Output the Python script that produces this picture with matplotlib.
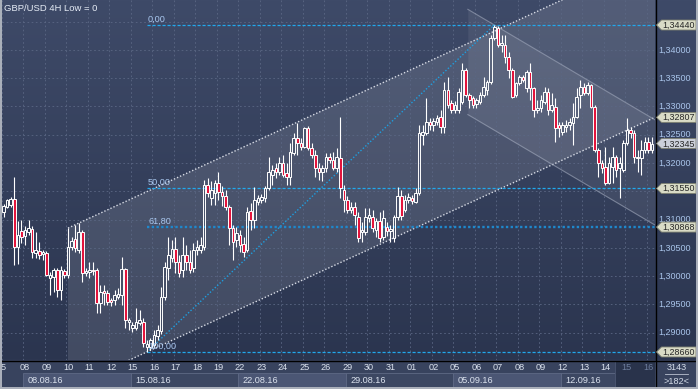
import matplotlib
matplotlib.use("Agg")
import matplotlib.pyplot as plt
import numpy as np
from matplotlib.patches import Rectangle, Polygon

plt.rcParams['font.family'] = ['Liberation Sans', 'DejaVu Sans']

# ---------------- data (GBP/USD 4H, 182 visible bars) ----------------
opens = [
    1.3113, 1.3122, 1.3126, 1.3136, 1.3051, 1.3080,
    1.3071, 1.3078, 1.3083, 1.3041, 1.3044, 1.3039,
    1.3041, 1.2997, 1.2999, 1.3011, 1.2976, 1.3009,
    1.3002, 1.3051, 1.3066, 1.3046, 1.3078, 1.3006,
    1.3007, 1.3011, 1.3011, 1.2953, 1.2974, 1.2970,
    1.2958, 1.2958, 1.2963, 1.2967, 1.3013, 1.2919,
    1.2908, 1.2908, 1.2917, 1.2919, 1.2874, 1.2874,
    1.2878, 1.2894, 1.2903, 1.2963, 1.3014, 1.3032,
    1.3048, 1.3025, 1.3011, 1.3037, 1.3025, 1.3014,
    1.3046, 1.3046, 1.3051, 1.3161, 1.3138, 1.3147,
    1.3165, 1.3149, 1.3142, 1.3122, 1.3085, 1.3064,
    1.3073, 1.3057, 1.3046, 1.3115, 1.3099, 1.3131,
    1.3135, 1.3138, 1.3156, 1.3179, 1.3191, 1.3184,
    1.3200, 1.3182, 1.3175, 1.3218, 1.3244, 1.3235,
    1.3228, 1.3262, 1.3227, 1.3214, 1.3191, 1.3184,
    1.3191, 1.3211, 1.3205, 1.3191, 1.3209, 1.3152,
    1.3135, 1.3117, 1.3122, 1.3105, 1.3078, 1.3078,
    1.3103, 1.3105, 1.3082, 1.3097, 1.3069, 1.3087,
    1.3080, 1.3067, 1.3105, 1.3142, 1.3117, 1.3135,
    1.3138, 1.3131, 1.3147, 1.3250, 1.3253, 1.3273,
    1.3267, 1.3273, 1.3281, 1.3264, 1.3329, 1.3306,
    1.3294, 1.3294, 1.3308, 1.3364, 1.3320, 1.3315,
    1.3304, 1.3308, 1.3320, 1.3329, 1.3343, 1.3421,
    1.3439, 1.3409, 1.3409, 1.3387, 1.3364, 1.3320,
    1.3341, 1.3352, 1.3333, 1.3361, 1.3333, 1.3294,
    1.3297, 1.3308, 1.3326, 1.3294, 1.3299, 1.3267,
    1.3255, 1.3264, 1.3267, 1.3271, 1.3281, 1.3320,
    1.3334, 1.3324, 1.3338, 1.3299, 1.3223, 1.3200,
    1.3193, 1.3165, 1.3193, 1.3211, 1.3191, 1.3188,
    1.3235, 1.3258, 1.3253, 1.3211, 1.3209, 1.3223,
    1.3237, 1.3223,
]
highs = [
    1.3128, 1.3136, 1.3140, 1.3175, 1.3097, 1.3099,
    1.3089, 1.3099, 1.3089, 1.3078, 1.3060, 1.3046,
    1.3044, 1.3007, 1.3014, 1.3014, 1.3018, 1.3013,
    1.3085, 1.3069, 1.3090, 1.3094, 1.3082, 1.3014,
    1.3025, 1.3025, 1.3014, 1.2984, 1.2984, 1.2976,
    1.2962, 1.2976, 1.2979, 1.3034, 1.3014, 1.2926,
    1.2919, 1.2944, 1.2940, 1.2926, 1.2887, 1.2891,
    1.2905, 1.2914, 1.2981, 1.3025, 1.3069, 1.3064,
    1.3069, 1.3037, 1.3069, 1.3055, 1.3046, 1.3058,
    1.3064, 1.3069, 1.3170, 1.3174, 1.3168, 1.3170,
    1.3184, 1.3159, 1.3152, 1.3126, 1.3090, 1.3087,
    1.3082, 1.3069, 1.3122, 1.3129, 1.3158, 1.3143,
    1.3145, 1.3159, 1.3211, 1.3196, 1.3200, 1.3211,
    1.3214, 1.3200, 1.3235, 1.3253, 1.3271, 1.3244,
    1.3264, 1.3265, 1.3235, 1.3223, 1.3200, 1.3196,
    1.3218, 1.3218, 1.3219, 1.3227, 1.3281, 1.3161,
    1.3142, 1.3131, 1.3131, 1.3113, 1.3096, 1.3121,
    1.3121, 1.3117, 1.3103, 1.3113, 1.3117, 1.3096,
    1.3090, 1.3108, 1.3158, 1.3152, 1.3143, 1.3147,
    1.3143, 1.3156, 1.3267, 1.3267, 1.3315, 1.3280,
    1.3280, 1.3285, 1.3294, 1.3343, 1.3352, 1.3311,
    1.3310, 1.3333, 1.3377, 1.3368, 1.3324, 1.3318,
    1.3315, 1.3326, 1.3352, 1.3347, 1.3426, 1.3444,
    1.3442, 1.3426, 1.3426, 1.3396, 1.3368, 1.3343,
    1.3356, 1.3356, 1.3364, 1.3377, 1.3334, 1.3311,
    1.3320, 1.3334, 1.3333, 1.3324, 1.3315, 1.3273,
    1.3273, 1.3276, 1.3280, 1.3306, 1.3333, 1.3347,
    1.3341, 1.3343, 1.3340, 1.3303, 1.3227, 1.3205,
    1.3228, 1.3211, 1.3228, 1.3214, 1.3211, 1.3241,
    1.3280, 1.3264, 1.3258, 1.3223, 1.3241, 1.3246,
    1.3246, 1.3246,
]
lows = [
    1.3105, 1.3121, 1.3122, 1.3020, 1.3021, 1.3058,
    1.3055, 1.3073, 1.3032, 1.3032, 1.3030, 1.3029,
    1.3000, 1.2967, 1.2972, 1.2963, 1.2958, 1.2997,
    1.2997, 1.3046, 1.3043, 1.3041, 1.2990, 1.3000,
    1.2997, 1.3002, 1.2935, 1.2935, 1.2949, 1.2949,
    1.2947, 1.2949, 1.2960, 1.2949, 1.2908, 1.2905,
    1.2901, 1.2905, 1.2914, 1.2874, 1.2866, 1.2869,
    1.2873, 1.2887, 1.2898, 1.2958, 1.2993, 1.3025,
    1.3006, 1.2999, 1.2999, 1.3011, 1.3006, 1.3007,
    1.3037, 1.3041, 1.3046, 1.3140, 1.3126, 1.3126,
    1.3135, 1.3124, 1.3117, 1.3055, 1.3029, 1.3051,
    1.3043, 1.3034, 1.3043, 1.3082, 1.3085, 1.3126,
    1.3129, 1.3131, 1.3152, 1.3161, 1.3174, 1.3179,
    1.3175, 1.3161, 1.3161, 1.3214, 1.3214, 1.3223,
    1.3227, 1.3223, 1.3209, 1.3175, 1.3170, 1.3168,
    1.3184, 1.3200, 1.3188, 1.3184, 1.3138, 1.3113,
    1.3112, 1.3112, 1.3090, 1.3060, 1.3060, 1.3073,
    1.3096, 1.3078, 1.3069, 1.3060, 1.3064, 1.3071,
    1.3060, 1.3060, 1.3099, 1.3099, 1.3113, 1.3129,
    1.3128, 1.3129, 1.3143, 1.3232, 1.3250, 1.3258,
    1.3257, 1.3267, 1.3253, 1.3253, 1.3297, 1.3288,
    1.3288, 1.3288, 1.3304, 1.3317, 1.3297, 1.3297,
    1.3297, 1.3304, 1.3317, 1.3320, 1.3340, 1.3417,
    1.3405, 1.3396, 1.3377, 1.3350, 1.3315, 1.3317,
    1.3338, 1.3343, 1.3326, 1.3311, 1.3281, 1.3288,
    1.3290, 1.3304, 1.3285, 1.3290, 1.3237, 1.3246,
    1.3250, 1.3255, 1.3258, 1.3232, 1.3280, 1.3297,
    1.3320, 1.3320, 1.3297, 1.3219, 1.3175, 1.3182,
    1.3161, 1.3163, 1.3165, 1.3175, 1.3138, 1.3184,
    1.3232, 1.3244, 1.3200, 1.3184, 1.3179, 1.3218,
    1.3218, 1.3218,
]
closes = [
    1.3124, 1.3135, 1.3136, 1.3051, 1.3073, 1.3069,
    1.3082, 1.3085, 1.3043, 1.3046, 1.3037, 1.3043,
    1.3002, 1.3002, 1.3011, 1.2976, 1.3011, 1.3002,
    1.3051, 1.3062, 1.3050, 1.3078, 1.3006, 1.3009,
    1.3011, 1.3009, 1.2953, 1.2972, 1.2970, 1.2954,
    1.2954, 1.2967, 1.2969, 1.3013, 1.2923, 1.2923,
    1.2914, 1.2919, 1.2923, 1.2881, 1.2880, 1.2887,
    1.2896, 1.2905, 1.2963, 1.3016, 1.3037, 1.3048,
    1.3025, 1.3006, 1.3037, 1.3025, 1.3011, 1.3046,
    1.3051, 1.3055, 1.3161, 1.3147, 1.3152, 1.3165,
    1.3149, 1.3142, 1.3122, 1.3085, 1.3060, 1.3076,
    1.3055, 1.3043, 1.3113, 1.3099, 1.3135, 1.3138,
    1.3140, 1.3156, 1.3184, 1.3188, 1.3184, 1.3200,
    1.3179, 1.3175, 1.3219, 1.3244, 1.3235, 1.3228,
    1.3262, 1.3227, 1.3214, 1.3191, 1.3184, 1.3191,
    1.3211, 1.3205, 1.3191, 1.3211, 1.3156, 1.3135,
    1.3117, 1.3122, 1.3108, 1.3067, 1.3082, 1.3105,
    1.3108, 1.3085, 1.3097, 1.3067, 1.3103, 1.3080,
    1.3083, 1.3105, 1.3142, 1.3106, 1.3135, 1.3140,
    1.3133, 1.3147, 1.3253, 1.3255, 1.3273, 1.3267,
    1.3274, 1.3280, 1.3264, 1.3329, 1.3303, 1.3294,
    1.3303, 1.3326, 1.3364, 1.3320, 1.3311, 1.3303,
    1.3311, 1.3320, 1.3334, 1.3343, 1.3421, 1.3440,
    1.3409, 1.3412, 1.3387, 1.3364, 1.3317, 1.3341,
    1.3352, 1.3347, 1.3361, 1.3333, 1.3294, 1.3297,
    1.3311, 1.3326, 1.3294, 1.3303, 1.3262, 1.3262,
    1.3267, 1.3267, 1.3273, 1.3281, 1.3317, 1.3334,
    1.3324, 1.3338, 1.3299, 1.3223, 1.3200, 1.3191,
    1.3165, 1.3200, 1.3211, 1.3188, 1.3200, 1.3235,
    1.3258, 1.3253, 1.3211, 1.3209, 1.3223, 1.3237,
    1.3223, 1.32345,
]

day_labels = ['5', '08', '09', '10', '11', '12', '15', '16', '17', '18', '19',
              '22', '23', '24', '25', '26', '29', '30', '31', '01', '02',
              '05', '06', '07', '08', '09', '12', '13', '14', '15', '16']
week_labels = ['08.08.16', '15.08.16', '22.08.16', '29.08.16', '05.09.16', '12.09.16']
price_ticks = [1.290, 1.295, 1.300, 1.305, 1.310, 1.315, 1.320, 1.325, 1.330, 1.335, 1.340]
grid_prices = [1.285, 1.290, 1.295, 1.300, 1.305, 1.310, 1.315, 1.320, 1.325,
               1.330, 1.335, 1.340, 1.345]
fib_levels = [0.0, 50.0, 61.8, 100.0]
tag_prices = [1.34440, 1.32807, 1.32345, 1.31550, 1.30868, 1.28660]
current_price = 1.32345
bars_total = 3143
bars_visible = 182
title = "GBP/USD 4H Low = 0"

# channel definitions (anchors)
chan_up_k, chan_lo_k = 18, 40          # upper anchor bar, lower anchor bar
chan_slope = 0.0002925                 # price per bar
desc_k0, desc_peak_k = 129.6, 137
desc_slope, desc_width = -0.000374, 0.0186
fib_lo_k, fib_hi_k = 40, 137

# ---------------- layout ----------------
W, H = 698, 389
PLOT_L, PLOT_R, PLOT_B = 2, 655, 360
PX_PER_PRICE = 5657.0
REF_Y = 25.0
CANDLE_PX = 3.583
X0_PX = 3.5

fig = plt.figure(figsize=(W / 100, H / 100), dpi=100)

bg = fig.add_axes([0, 0, 1, 1])
grad = np.linspace(0, 1, 256).reshape(-1, 1, 1)
top_c = np.array([0x3e, 0x4a, 0x68]) / 255.0
bot_c = np.array([0x2b, 0x35, 0x4f]) / 255.0
img = top_c * (1 - grad) + bot_c * grad
bg.imshow(img, extent=(0, W, PLOT_B, 0), aspect='auto', interpolation='bilinear')
bg.add_patch(Rectangle((0, PLOT_B), W, H - PLOT_B, color='#38435e', zorder=1))
bg.set_xlim(0, W)
bg.set_ylim(H, 0)
bg.set_axis_off()

ax = fig.add_axes([PLOT_L / W, (H - PLOT_B) / H, (PLOT_R - PLOT_L) / W, PLOT_B / H])
ax.set_axis_off()
ymax = tag_prices[0] + REF_Y / PX_PER_PRICE
ymin = ymax - PLOT_B / PX_PER_PRICE
xmin = -(X0_PX - PLOT_L) / CANDLE_PX
xmax = xmin + (PLOT_R - PLOT_L) / CANDLE_PX
ax.set_xlim(xmin, xmax)
ax.set_ylim(ymin, ymax)

n = len(closes)

# grid
for gp in grid_prices:
    ax.axhline(gp, color='#5b6784', lw=0.6, ls=(0, (2, 3)), zorder=2)
for d in range(len(day_labels)):
    ax.axvline(d * 6 - 0.5, color='#5b6784', lw=0.6, ls=(0, (2, 3)), zorder=2)

# ascending channel
ks = np.linspace(chan_up_k, xmax + 2, 300)
up = highs[chan_up_k] + chan_slope * (ks - chan_up_k)
lo = lows[chan_lo_k] + chan_slope * (ks - chan_lo_k)
ax.fill_between(ks, lo, up, color='white', alpha=0.11, lw=0, zorder=1)
ax.plot(ks, up, color='#d8dce6', lw=1.0, ls=(0, (1, 1.4)), zorder=3)
ax.plot(ks, lo, color='#d8dce6', lw=1.0, ls=(0, (1, 1.4)), zorder=3)

# descending channel
dk = np.linspace(desc_k0, xmax + 2, 200)
dup = highs[desc_peak_k] + desc_slope * (dk - desc_peak_k)
dlo = dup - desc_width
ax.fill_between(dk, dlo, dup, color='white', alpha=0.07, lw=0, zorder=1)
ax.plot(dk, dup, color='#a3abbe', lw=0.8, alpha=0.6, zorder=3)
ax.plot(dk, dlo, color='#a3abbe', lw=0.8, alpha=0.6, zorder=3)

# fibonacci
fib_lo, fib_hi = lows[fib_lo_k], highs[fib_hi_k]
ax.plot([fib_lo_k, fib_hi_k], [fib_lo, fib_hi], color='#1e9fe0', lw=1.0,
        ls=(0, (1, 1.4)), zorder=3.5)
for lvl in fib_levels:
    p = fib_hi - lvl / 100.0 * (fib_hi - fib_lo)
    if abs(lvl - 61.8) < 1e-6:
        ax.plot([fib_lo_k, xmax + 2], [p, p], color='#1f88cc', lw=1.7,
                ls=(0, (1, 1)), zorder=3.5)
    else:
        ax.plot([fib_lo_k, xmax + 2], [p, p], color='#22a8ec', lw=0.9,
                ls=(0, (2.5, 1.5)), zorder=3.5)
    ax.text(fib_lo_k + 0.35, p + 5.8 / PX_PER_PRICE, f"{lvl:.2f}".replace('.', ','),
            color='#a9c7ef', fontsize=6.6, va='center', ha='left', zorder=7)

# candles
RED = '#e3143c'
for k in range(n):
    o, h, l, c = opens[k], highs[k], lows[k], closes[k]
    t, b = max(o, c), min(o, c)
    ax.plot([k, k], [t, h], color='white', lw=0.8, zorder=5, solid_capstyle='butt')
    ax.plot([k, k], [l, b], color='white', lw=0.8, zorder=5, solid_capstyle='butt')
    ax.add_patch(Rectangle((k - 0.36, b), 0.72, max(t - b, 0.00005),
                           facecolor=RED if c < o else 'none',
                           edgecolor='white', lw=0.7, zorder=6))

# ---------------- overlay (pixel coordinates) ----------------
ov = fig.add_axes([0, 0, 1, 1])
ov.set_xlim(0, W)
ov.set_ylim(H, 0)
ov.set_axis_off()
ov.patch.set_alpha(0)


def px_of(k, p):
    dx, dy = ax.transData.transform((k, p))
    return dx, H - dy


# title
ov.text(4, 8, title, color='#e6ecf6', fontsize=6.8, va='center', ha='left')

# right axis labels (those fully hidden behind a price tag are not drawn)
tag_ys = [px_of(0, tp)[1] for tp in tag_prices]
for tp in price_ticks:
    _, y = px_of(0, tp)
    if min(abs(y - ty) for ty in tag_ys) < 6:
        continue
    ov.text(658.5, y, f"{tp:.5f}".replace('.', ','), color='#a9c4ea',
            fontsize=6.5, va='center', ha='left', zorder=2)

# price tags
for tp in tag_prices:
    _, y = px_of(0, tp)
    fc = '#ccd0da' if abs(tp - current_price) < 1e-9 else '#d9dbc6'
    poly = Polygon([(656.5, y), (661.5, y - 5), (696, y - 5), (696, y + 5), (661.5, y + 5)],
                   closed=True, facecolor=fc, edgecolor='#7d8070', lw=0.6, zorder=5)
    ov.add_patch(poly)
    ov.text(662.5, y + 0.3, f"{tp:.5f}".replace('.', ','), color='#262626',
            fontsize=6.4, va='center', ha='left', zorder=6)

# bottom strip: week boxes
for w, lab in enumerate(week_labels):
    ks0 = (1 + 5 * w) * 6 - 0.5
    x0, _ = px_of(ks0, ymin)
    x1, _ = px_of(ks0 + 30, ymin)
    x1 = min(x1, 615)
    fc = '#4b5674' if w % 2 == 0 else '#3c4762'
    ov.add_patch(Rectangle((x0, 373), x1 - x0, 14, facecolor=fc,
                           edgecolor='#5e6985', lw=0.6, zorder=1))
    ov.text(x0 + 4.5, 380.5, lab, color='#dbe2ee', fontsize=6.6,
            va='center', ha='left', zorder=3)

# darker zone at the right end of the time scale
ov.add_patch(Rectangle((615, 361), 40, 26, facecolor='#29334b',
                       edgecolor='#4a5570', lw=0.6, zorder=1.5))

# day labels
for d, lab in enumerate(day_labels):
    x, _ = px_of(d * 6, ymin)
    col = '#6d7d9c' if d >= 29 else '#dbe2ee'
    ov.text(x, 367.5, lab, color=col, fontsize=6.6, va='center', ha='center', zorder=3)

# bar counter box
ov.text(676.5, 367.5, str(bars_total), color='#d3dbe8', fontsize=6.6,
        va='center', ha='center', zorder=3)
ov.plot([665, 688], [373.5, 373.5], color='#b8c0d0', lw=0.6, zorder=3)
ov.text(676.5, 381, f">{bars_visible}<", color='#d3dbe8', fontsize=6.6,
        va='center', ha='center', zorder=3)

# separators and border
ov.plot([655.5, 655.5], [0, H], color='black', lw=1.0, zorder=4)
ov.plot([0, W], [360.5, 360.5], color='black', lw=1.0, zorder=4)
ov.plot([0.7, 0.7], [0, H], color='#aeb3bd', lw=1.4, zorder=8)
ov.plot([0, W], [388.3, 388.3], color='#aeb3bd', lw=1.4, zorder=8)
ov.plot([697.3, 697.3], [0, H], color='#aeb3bd', lw=1.4, zorder=8)

fig.savefig('out.png', dpi=100)
